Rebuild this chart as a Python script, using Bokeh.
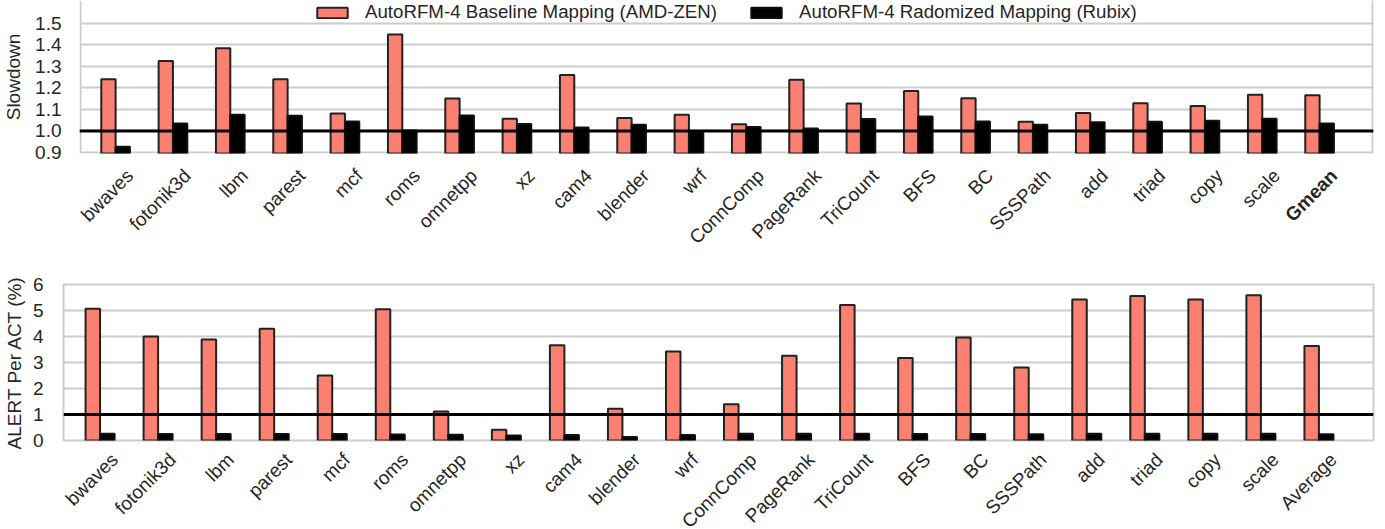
import numpy as np
from bokeh.plotting import figure
from bokeh.models import (Range1d, FixedTicker, PrintfTickFormatter, Span, Grid,
                          ColumnDataSource, Legend, LegendItem)
from bokeh.core.properties import value
from bokeh.embed import file_html
from bokeh.resources import INLINE

# ---------------- data ----------------
top_categories = ["bwaves", "fotonik3d", "lbm", "parest", "mcf", "roms", "omnetpp", "xz",
                  "cam4", "blender", "wrf", "ConnComp", "PageRank", "TriCount", "BFS", "BC",
                  "SSSPath", "add", "triad", "copy", "scale", "Gmean"]
bottom_categories = top_categories[:-1] + ["Average"]

slowdown_baseline = [1.24, 1.324, 1.383, 1.24, 1.081, 1.447, 1.15, 1.057, 1.259, 1.06, 1.075,
                     1.031, 1.237, 1.127, 1.185, 1.151, 1.043, 1.083, 1.128, 1.116, 1.168, 1.165]
slowdown_rubix = [0.927, 1.034, 1.075, 1.07, 1.044, 1.002, 1.072, 1.032, 1.016, 1.029, 0.995,
                  1.018, 1.011, 1.055, 1.067, 1.044, 1.029, 1.04, 1.043, 1.047, 1.057, 1.034]
alert_baseline = [5.07, 4.0, 3.88, 4.3, 2.5, 5.05, 1.12, 0.41, 3.66, 1.22, 3.42, 1.39, 3.26,
                  5.21, 3.17, 3.96, 2.81, 5.42, 5.56, 5.42, 5.59, 3.63]
alert_rubix = [0.26, 0.25, 0.25, 0.25, 0.25, 0.23, 0.22, 0.19, 0.21, 0.13, 0.21, 0.26, 0.26,
               0.26, 0.25, 0.25, 0.24, 0.26, 0.26, 0.26, 0.26, 0.24]

legend_labels = ["AutoRFM-4 Baseline Mapping (AMD-ZEN)", "AutoRFM-4 Radomized Mapping (Rubix)"]
top_yticks = [0.9, 1.0, 1.1, 1.2, 1.3, 1.4, 1.5]
bottom_yticks = [0, 1, 2, 3, 4, 5, 6]

# ---------------- style ----------------
FONT = "Liberation Sans"
TXT = "#262626"
SALMON = "#FA8072"
EDGE = "#222222"
GRID = "#cccccc"
FS = "19px"
W = 1385
RIGHT = 12
X_START, X_END = -0.63, 21.94
BAR_W = 0.25
LABEL_SHIFT = 0.25


def style_yaxis(ax, yticks, fmt, ylabel, label_standoff, axis_label_standoff):
    ax.ticker = FixedTicker(ticks=yticks)
    ax.formatter = PrintfTickFormatter(format=fmt)
    ax.axis_line_color = None
    ax.major_tick_line_color = None
    ax.minor_tick_line_color = None
    ax.major_tick_out = 0
    ax.major_tick_in = 0
    ax.major_label_standoff = label_standoff
    ax.major_label_text_font = FONT
    ax.major_label_text_font_size = FS
    ax.major_label_text_color = TXT
    ax.axis_label = ylabel
    ax.axis_label_text_font = FONT
    ax.axis_label_text_font_size = FS
    ax.axis_label_text_font_style = "normal"
    ax.axis_label_text_color = TXT
    ax.axis_label_standoff = axis_label_standoff


def add_bars(p, base, rubix):
    idx = np.arange(len(base))
    src = ColumnDataSource(dict(xr=idx - BAR_W / 2, xb=idx + BAR_W / 2, base=base, rubix=rubix))
    r1 = p.vbar(x="xr", top="base", bottom=0, width=BAR_W, source=src,
                fill_color=SALMON, line_color=EDGE, line_width=2)
    r2 = p.vbar(x="xb", top="rubix", bottom=0, width=BAR_W, source=src,
                fill_color="black", line_color="#111111", line_width=2)
    p.add_layout(Span(location=1, dimension="width", line_color="black", line_width=3))
    return r1, r2


def label_strip(cats, height, border_left, anchor_down, bold_last=False):
    """Frame-only strip under a chart carrying the rotated category labels,
    on the chart's horizontal scale."""
    ppu = (W - RIGHT - border_left) / (X_END - X_START)
    xr = Range1d(X_START - border_left / ppu, X_END + RIGHT / ppu)
    s = figure(width=W, height=height, output_backend="svg", toolbar_location=None,
               x_range=xr, y_range=Range1d(-height, 0),
               x_axis_location=None, y_axis_location=None,
               min_border=0, min_border_left=0, min_border_right=0,
               min_border_top=0, min_border_bottom=0)
    s.outline_line_color = None
    s.grid.visible = False
    n = len(cats) - 1 if bold_last else len(cats)
    xs = [float(i) + LABEL_SHIFT for i in range(len(cats))]
    s.text(x=xs[:n], y=[-anchor_down] * n, text=cats[:n], angle=np.pi / 4,
           text_align="right", text_baseline="middle",
           text_font=value(FONT), text_font_size=value(FS), text_color=TXT)
    if bold_last:
        s.text(x=xs[n:], y=[-anchor_down], text=cats[n:], angle=np.pi / 4,
               text_align="right", text_baseline="middle", text_font_style="bold",
               text_font=value(FONT), text_font_size=value(FS), text_color=TXT)
    return s


# ---------------- top figure (frame also hosts the legend strip above the plot area) ------
P1_H, P1_LEFT, P1_BOTTOM = 162, 79, 9
PLOT_TOP_PX = 22.7                       # plot area starts this far below the frame top
frame_h = P1_H - P1_BOTTOM
ppy = (frame_h - PLOT_TOP_PX) / (top_yticks[-1] - top_yticks[0])
y1_start = top_yticks[0] - 1.0 / ppy
y1_end = top_yticks[-1] + PLOT_TOP_PX / ppy

p1 = figure(width=W, height=P1_H, output_backend="svg", toolbar_location=None,
            x_range=Range1d(X_START, X_END), y_range=Range1d(y1_start, y1_end),
            x_axis_location=None,
            min_border_left=P1_LEFT, min_border_right=RIGHT,
            min_border_top=0, min_border_bottom=P1_BOTTOM)
p1.outline_line_color = None
p1.xgrid.visible = False
p1.ygrid.ticker = FixedTicker(ticks=top_yticks)
p1.ygrid.grid_line_color = GRID
p1.ygrid.grid_line_width = 2
ppx = (W - RIGHT - P1_LEFT) / (X_END - X_START)
p1.add_layout(Grid(dimension=0, ticker=FixedTicker(ticks=[X_START + 1 / ppx, X_END - 1 / ppx]),
                   bounds=(top_yticks[0], top_yticks[-1]),
                   grid_line_color=GRID, grid_line_width=2))
style_yaxis(p1.yaxis[0], top_yticks, "%.1f", "Slowdown", 18, 8)
p1.yaxis[0].bounds = (top_yticks[0], top_yticks[-1])
r1, r2 = add_bars(p1, slowdown_baseline, slowdown_rubix)

legend = Legend(items=[LegendItem(label=legend_labels[0], renderers=[r1]),
                       LegendItem(label=legend_labels[1], renderers=[r2])],
                orientation="horizontal", location=(313 - P1_LEFT, frame_h - 23),
                glyph_width=38, glyph_height=13, label_standoff=14, spacing=30,
                padding=0, margin=0, border_line_alpha=0, background_fill_alpha=0,
                label_text_font=FONT, label_text_font_size="18.7px", label_text_color=TXT)
p1.add_layout(legend, "center")

s1 = label_strip(top_categories, 100, P1_LEFT, 10, bold_last=True)

# ---------------- bottom figure ----------------
P2_LEFT = 63
p2 = figure(width=W, height=188, output_backend="svg", toolbar_location=None,
            x_range=Range1d(X_START, X_END), y_range=Range1d(0, 6),
            x_axis_location=None,
            min_border_left=P2_LEFT, min_border_right=RIGHT,
            min_border_top=22, min_border_bottom=10)
p2.outline_line_color = GRID
p2.outline_line_width = 2
p2.xgrid.visible = False
p2.ygrid.ticker = FixedTicker(ticks=bottom_yticks)
p2.ygrid.grid_line_color = GRID
p2.ygrid.grid_line_width = 2
style_yaxis(p2.yaxis[0], bottom_yticks, "%d", "ALERT Per ACT (%)", 20, 5)
add_bars(p2, alert_baseline, alert_rubix)
s2 = label_strip(bottom_categories, 79, P2_LEFT, 6)

open("out.html", "w").write(file_html([p1, s1, p2, s2], INLINE))
